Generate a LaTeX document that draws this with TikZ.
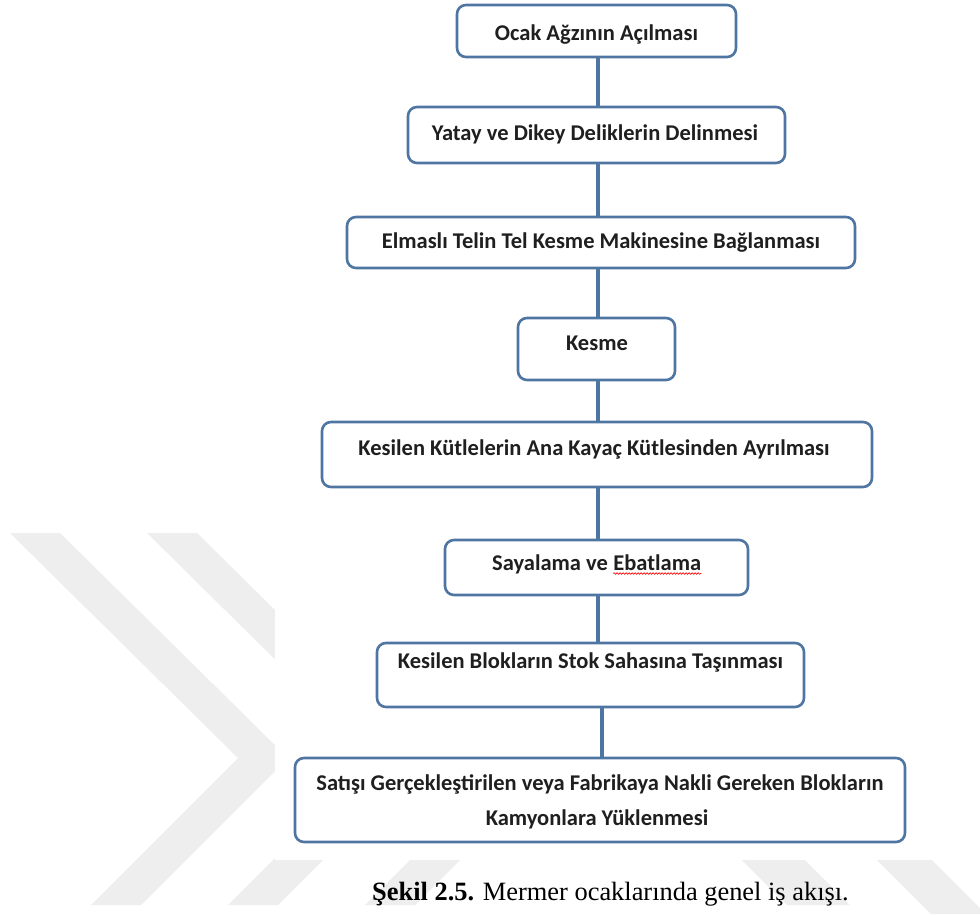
\documentclass[tikz,border=0pt]{standalone}
\usepackage{fontspec}
\setmainfont{Carlito}
\newfontfamily\capfont{Liberation Serif}
\usetikzlibrary{decorations.pathmorphing}
\definecolor{boxblue}{RGB}{79,117,162}
\definecolor{wmgray}{RGB}{238,238,238}
\begin{document}
\begin{tikzpicture}[x=1pt,y=-1pt,
  box/.style={draw=boxblue, line width=2.6pt, rounded corners=9pt, fill=white, inner sep=0pt},
  lbl/.style={font=\fontsize{22.5}{27}\selectfont\bfseries, text=black!88, inner sep=0pt, anchor=base},
  link/.style={draw=boxblue, line width=3.6pt},
  wm/.style={fill=wmgray, draw=none}]
\useasboundingbox (0,0) rectangle (980,914);
\fill[white] (0,0) rectangle (980,914);
% watermark chevrons
\fill[wm] (10,533) -- (60,533) -- (288,758) -- (141,905) -- (91,905) -- (238,758) -- cycle;
\fill[wm] (147,533) -- (197,533) -- (425,758) -- (278,905) -- (228,905) -- (375,758) -- cycle;
\fill[wm] (284,533) -- (334,533) -- (562,758) -- (415,905) -- (365,905) -- (512,758) -- cycle;
\fill[wm] (742,860) -- (805,860) -- (850,905) -- (787,905) -- cycle;
\fill[wm] (877,860) -- (932,860) -- (980,908) -- (980,914) -- (931,914) -- cycle;
% screenshot area
\fill[white] (275,0) rectangle (923,860);

% boxes
\node[box, minimum width=279pt, minimum height=52pt] (b1) at (596.5,31) {};
\node[box, minimum width=377pt, minimum height=56pt] (b2) at (596.5,135) {};
\node[box, minimum width=508pt, minimum height=51pt] (b3) at (601,242.5) {};
\node[box, minimum width=157pt, minimum height=62pt] (b4) at (596.5,349) {};
\node[box, minimum width=550pt, minimum height=65pt] (b5) at (597,454.5) {};
\node[box, minimum width=303pt, minimum height=55pt] (b6) at (596.5,567.5) {};
\node[box, minimum width=427pt, minimum height=64pt] (b7) at (590.5,675) {};
\node[box, minimum width=610pt, minimum height=84pt] (b8) at (600,800) {};

% connectors
\coordinate (sp) at (598,0);
\coordinate (sq) at (602,0);
\draw[link] (b1.south -| sp) -- (b2.north -| sp);
\draw[link] (b2.south -| sp) -- (b3.north -| sp);
\draw[link] (b3.south -| sp) -- (b4.north -| sp);
\draw[link] (b4.south -| sp) -- (b5.north -| sp);
\draw[link] (b5.south -| sp) -- (b6.north -| sp);
\draw[link] (b6.south -| sp) -- (b7.north -| sp);
\draw[link] (b7.south -| sq) -- (b8.north -| sq);

% texts
\node[lbl] (t1) at (596.5,40) {Ocak Ağzının Açılması};
\node[lbl] (t2) at (595,140) {Yatay ve Dikey Deliklerin Delinmesi};
\node[lbl] (t3) at (601,248) {Elmaslı Telin Tel Kesme Makinesine Bağlanması};
\node[lbl] (t4) at (597,350) {Kesme};
\node[lbl] (t5) at (594,455) {Kesilen Kütlelerin Ana Kayaç Kütlesinden Ayrılması};
\node[lbl, anchor=base west] (t6a) at (492,570) {Sayalama ve};
\node[lbl, anchor=base west] (t6b) at ([xshift=5.1pt]t6a.base east) {Ebatlama};
\draw[red, line width=0.6pt, decorate, decoration={snake, amplitude=0.8pt, segment length=3pt}]
  ([yshift=-3.5pt]t6b.base west) -- ([yshift=-3.5pt]t6b.base east);
\node[lbl] (t7) at (590.5,668) {Kesilen Blokların Stok Sahasına Taşınması};
\node[lbl] (t8a) at (600,790) {Satışı Gerçekleştirilen veya Fabrikaya Nakli Gereken Blokların};
\node[lbl] (t8b) at (597,825) {Kamyonlara Yüklenmesi};

% caption
\node[anchor=base west, inner sep=0pt, font=\capfont\fontsize{26.4}{30}\selectfont] (cap) at (372,900)
  {\textbf{Şekil 2.5.} Mermer ocaklarında genel iş akışı.};
\end{tikzpicture}
\end{document}
